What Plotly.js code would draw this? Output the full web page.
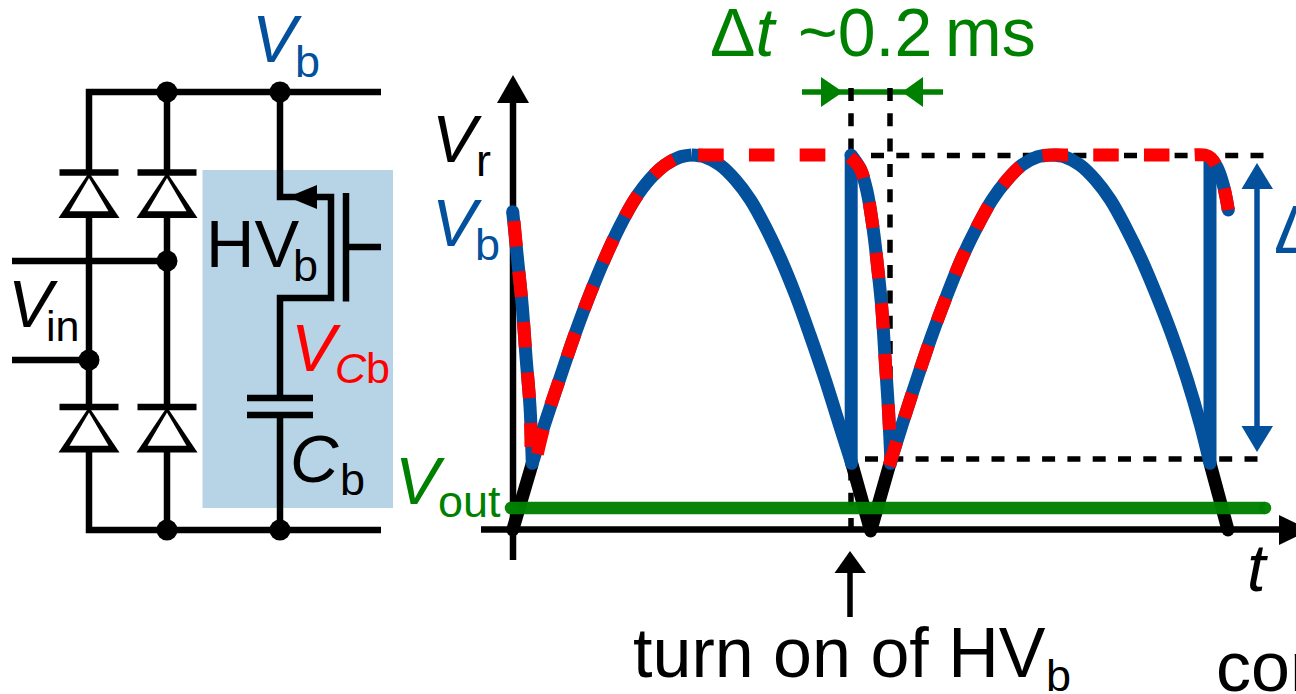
<!DOCTYPE html>
<html><head><meta charset="utf-8">
<script src="https://cdn.plot.ly/plotly-3.0.1.min.js"></script>
<style>html,body{margin:0;padding:0;background:#fff;overflow:hidden}#c{width:1296px;height:694px}</style>
</head><body><div id="c"></div>
<script>
const BLUE='#03519C', RED='#FF0000', GREEN='#008000', BLACK='#000000', PANEL='#B7D3E6', WHITE='#FFFFFF';

// waveform readings
const decay1X=[512.7,517.3,522.3,526,530,532.3], decay1Y=[211.7,256.7,306.7,356.7,406.7,463.3];
const rise1X=[532.3,545,560,575,590,605,620,635,650,665,680,691.7], rise1Y=[463.3,423,378,334,294,258,226,199,179,165,157,155];
const fall1X=[691.7,705,720,735.5,750.5,765.5,780.5,795.5,810,825,839.5,851.7], fall1Y=[155,157,165,180,200,227,258.5,295,335,379,425,463.3];
const jump1X=[851.2,851.2], jump1Y=[463.3,155];
const decay2X=[851,860,866.7,873.3,878.3,881.7,885,888.3,891], decay2Y=[155,168.3,190,230,273.3,306.7,356.7,406.7,463.3];
const rise2X=[890,902,917,932,947,962,977,992,1007,1022,1037,1051.7], rise2Y=[463.3,425,379,335,295,258,227,200,180,165,157,155];
const fall2X=[1051.7,1065,1080,1095.5,1110.5,1125.5,1141,1156.5,1172,1187,1200.5,1210], fall2Y=[155,157,165,180,200,227,258.5,295,335,379,425,463.3];
const jump2X=[1210,1210], jump2Y=[463.3,158];
const decay3X=[1210,1216.7,1223.3,1228.3], decay3Y=[158,166.7,185,210];
// capacitor voltage (dashed overlay)
const redAX=[514,517.3,522.3,526,530,531], redAY=[221,256.7,306.7,356.7,406.7,447];
const redBX=[537.3,545,560,575,590,605,620,635,650,665,680,691.7,710,730,750,770,790,810,830,845], redBY=[454,423,378,334,294,258,226,199,179,165,157,155,155,155,155,155,155,155,155,155];
const redCX=[850,860,866.7,873.3,878.3,881.7,885,888.3,891], redCY=[157,168.3,190,230,273.3,306.7,356.7,406.7,460];
const redDX=[889,902,917,932,947,962,977,992,1007,1022,1037,1051.7,1070,1090,1110,1130,1150,1170,1190,1205,1211,1216.7,1223.3,1228.3], redDY=[466,425,379,335,295,258,227,200,180,165,157,155,155,155,155,155,155,155,155,155,158,166.7,185,210];
// rectified voltage below the buffer level
const rect1X=[512.7,532.3], rect1Y=[530,463.3];
const rect2X=[851.7,870.7,890], rect2Y=[463.3,531,463.3];
const rect3X=[1210,1228], rect3Y=[463.3,530];
const outX=[511,1265], outY=[508,508];

// reference dashed lines
const guide1X=[851,851], guide1Y=[88,530];
const guide2X=[890,890], guide2Y=[88,463];
const guide3X=[871,1265], guide3Y=[155.5,155.5];
const guide4X=[865,1264], guide4Y=[459,459];

// circuit wiring
const wireTopX=[89,89,381], wireTopY=[172,92,92];
const wireBotX=[89,89,381], wireBotY=[450,530,530];
const wireLeftX=[89,89], wireLeftY=[216,407];
const wireMidTopX=[167,167], wireMidTopY=[92,172];
const wireMidX=[167,167], wireMidY=[216,407];
const wireMidBotX=[167,167], wireMidBotY=[450,530];
const wireFetX=[280,280,331,331,280,280], wireFetY=[92,197,197,298,298,398];
const wireCapX=[280,280], wireCapY=[415,530];
const gateX=[346,346], gateY=[193,301.5];
const gateLeadX=[346,381], gateLeadY=[247,247];
const plate1X=[247,313], plate1Y=[398,398];
const plate2X=[247,313], plate2Y=[415,415];
const inATopX=[12,167], inATopY=[261,261];
const inBX=[12,89], inBY=[360,360];
const dotX=[167,280,167,89,167,280], dotY=[92,92,261,360,530,530];
const diodeCols=[89,167,89,167], diodeBar=[172.5,172.5,407,407];

// axes and arrows
const axisYX=[513,513], axisYY=[90,560];
const axisXX=[481,1285], axisXY=[529.5,529.5];
const headYX=[513,497,529], headYY=[75,103,103];
const headXX=[1310,1279,1279], headXY=[530,515,545];
const dtX=[802,943], dtY=[92,92];
const dtHeadLX=[843,821,821], dtHeadLY=[92,77,107];
const dtHeadRX=[902,923,923], dtHeadRY=[92,77,107];
const swingX=[1257,1257], swingY=[185,430];
const swingTopX=[1257,1241.5,1273], swingTopY=[163,189,189];
const swingBotX=[1257,1241.5,1273], swingBotY=[452,426,426];
const turnX=[850,850], turnY=[570,617];
const turnHeadX=[850,834.5,866], turnHeadY=[551,573,573];
const panelX=[202.5,393,393,202.5], panelY=[170,170,508,508];
const blackEndX=[512.7,870.7,1228], blackEndY=[530,531,530];
const blueEndX=[512.7,1228.3,851,532.3,851.5,890.5,1210], blueEndY=[211.7,210,155,463.3,463.3,463.3,463.3];
const outEndX=[511,1265], outEndY=[508,508];

// labels
const labelText=['<i>V</i>','b','<i>V</i>','in','HV','b','<i>V</i>','<i>C</i>b','<i>C</i>','b',
 '<i>V</i>','out','<i>V</i>','r','<i>V</i>','b','Δ<i>t</i>','~0.2','ms','Δ','<i>t</i>','turn on of HV','b','con'];
const labelX=[252,295,8,46,206,293,291,335,290,340,395,438,432,476,432,475,710,798,945,1274,1247,633,1046,1216];
const labelBase=[62,77,327,341,267,281,371,383,482,495,504,517,162,176,246,260,56,56,56,253,591,677,691,691];
const labelSize=[67,45,67,43,67,45,67,43,67,45,67,45,67,45,67,45,68,68,68,68,67,70,45,70];
const labelColor=[BLUE,BLUE,BLACK,BLACK,BLACK,BLACK,RED,RED,BLACK,BLACK,GREEN,GREEN,BLACK,BLACK,BLUE,BLUE,GREEN,GREEN,GREEN,BLUE,BLACK,BLACK,BLACK,BLACK];

const traces=[];
function line(x,y,color,width,extra){
  traces.push({type:'scatter',mode:'lines',x:x,y:y,hoverinfo:'skip',showlegend:false,
    line:Object.assign({color:color,width:width},extra||{})});
}
function poly(x,y,color){
  traces.push({type:'scatter',mode:'lines',x:x.concat(x[0]),y:y.concat(y[0]),fill:'toself',fillcolor:color,
    hoverinfo:'skip',showlegend:false,line:{color:color,width:0}});
}
function dots(x,y,color,size){
  traces.push({type:'scatter',mode:'markers',x:x,y:y,hoverinfo:'skip',showlegend:false,
    marker:{color:color,size:size,line:{width:0}}});
}
poly(panelX,panelY,PANEL);
[[wireTopX,wireTopY],[wireBotX,wireBotY],[wireLeftX,wireLeftY],[wireMidTopX,wireMidTopY],[wireMidX,wireMidY],
 [wireMidBotX,wireMidBotY],[wireFetX,wireFetY],[wireCapX,wireCapY],[gateX,gateY],[gateLeadX,gateLeadY],
 [plate1X,plate1Y],[plate2X,plate2Y],[inATopX,inATopY],[inBX,inBY]].forEach(p=>line(p[0],p[1],BLACK,6.5));
diodeCols.forEach((cx,i)=>{
  const b=diodeBar[i];
  line([cx-29.5,cx+29.5],[b,b],BLACK,6.5);
  poly([cx,cx-30.5,cx+30.5],[b,b+45.5,b+45.5],BLACK);
  poly([cx,cx-19.5,cx+19.5],[b+5.5,b+38.7,b+38.7],WHITE);
});
poly([288,317,317],[197,185,209],BLACK);
dots(dotX,dotY,BLACK,21);

line(axisYX,axisYY,BLACK,6.5); line(axisXX,axisXY,BLACK,6.5);
poly(headYX,headYY,BLACK); poly(headXX,headXY,BLACK);
line(dtX,dtY,GREEN,5.5); poly(dtHeadLX,dtHeadLY,GREEN); poly(dtHeadRX,dtHeadRY,GREEN);
const gd='13px,12.3px';
[[guide1X,guide1Y],[guide2X,guide2Y],[guide3X,guide3Y],[guide4X,guide4Y]].forEach(p=>line(p[0],p[1],BLACK,5.5,{dash:gd}));
line(swingX,swingY,BLUE,5.5); poly(swingTopX,swingTopY,BLUE); poly(swingBotX,swingBotY,BLUE);
line(turnX,turnY,BLACK,5.5); poly(turnHeadX,turnHeadY,BLACK);

[[rect1X,rect1Y],[rect2X,rect2Y],[rect3X,rect3Y]].forEach(p=>line(p[0],p[1],BLACK,13));
dots(blackEndX,blackEndY,BLACK,13);
[[decay1X,decay1Y],[rise1X,rise1Y],[fall1X,fall1Y],[decay2X,decay2Y],[rise2X,rise2Y],[fall2X,fall2Y],[decay3X,decay3Y]]
  .forEach(p=>line(p[0],p[1],BLUE,13,{shape:'spline',smoothing:1}));
line(jump1X,jump1Y,BLUE,13); line(jump2X,jump2Y,BLUE,13);
dots(blueEndX,blueEndY,BLUE,13);
const rd='25.5px,25.2px';
[[redAX,redAY],[redBX,redBY],[redCX,redCY],[redDX,redDY]].forEach(p=>line(p[0],p[1],RED,13,{shape:'spline',smoothing:1,dash:rd}));
line(outX,outY,'rgba(0,128,0,0.97)',12.5);
dots(outEndX,outEndY,'rgba(0,128,0,0.97)',12.5);

const annotations=labelText.map((t,i)=>({
  text:t,x:labelX[i],y:labelBase[i]-0.3465*labelSize[i],xref:'x',yref:'y',xanchor:'left',yanchor:'middle',
  showarrow:false,borderpad:0,borderwidth:0,
  font:{family:'"Liberation Sans",Arial,sans-serif',size:labelSize[i],color:labelColor[i]}
}));

Plotly.newPlot('c',traces,{
  width:1296,height:694,margin:{l:0,r:0,t:0,b:0},paper_bgcolor:'#fff',plot_bgcolor:'#fff',showlegend:false,hovermode:false,
  xaxis:{range:[0,1296],visible:false,fixedrange:true},
  yaxis:{range:[694,0],visible:false,fixedrange:true},
  annotations:annotations
},{displayModeBar:false,staticPlot:true});
</script></body></html>
